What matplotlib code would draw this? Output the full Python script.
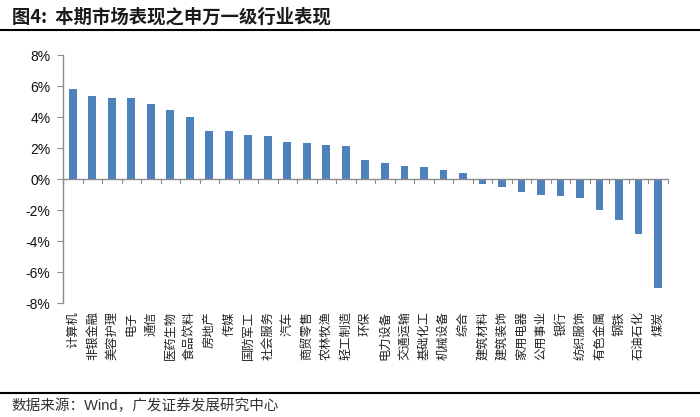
import matplotlib
matplotlib.use('Agg')
import matplotlib.pyplot as plt
from matplotlib.lines import Line2D
from matplotlib.ticker import FuncFormatter, MultipleLocator

plt.rcParams['font.family'] = ['Liberation Sans', 'Noto Sans CJK SC']

industries = ['计算机', '非银金融', '美容护理', '电子', '通信', '医药生物', '食品饮料',
              '房地产', '传媒', '国防军工', '社会服务', '汽车', '商贸零售', '农林牧渔',
              '轻工制造', '环保', '电力设备', '交通运输', '基础化工', '机械设备', '综合',
              '建筑材料', '建筑装饰', '家用电器', '公用事业', '银行', '纺织服饰',
              '有色金属', '钢铁', '石油石化', '煤炭']
returns = [5.78, 5.38, 5.20, 5.20, 4.86, 4.43, 4.00, 3.10, 3.10, 2.86, 2.80, 2.41,
           2.34, 2.17, 2.15, 1.20, 1.01, 0.86, 0.77, 0.58, 0.39, -0.32, -0.52, -0.80,
           -1.05, -1.08, -1.20, -2.02, -2.65, -3.55, -7.01]

bar_color = '#4F81BD'
axis_color = '#8C8C8C'

fig = plt.figure(figsize=(7, 4.17), dpi=100)
ax = fig.add_axes([0.09, 0.273, 0.864, 0.595])

x = list(range(len(industries)))
ax.bar(x, returns, width=0.4, color=bar_color, zorder=2)

ax.set_xlim(-0.5, len(industries) - 0.5)
ax.set_ylim(-8, 8)
ax.yaxis.set_major_locator(MultipleLocator(2))
ax.yaxis.set_major_formatter(FuncFormatter(lambda v, p: f'{v:.0f}%'))

for s in ['top', 'right', 'bottom']:
    ax.spines[s].set_visible(False)
ax.spines['left'].set_color(axis_color)
ax.spines['left'].set_linewidth(1.0)
ax.tick_params(axis='y', direction='out', length=4, color=axis_color,
               labelsize=10, pad=5, labelcolor='#111111')

# category axis drawn at zero, with ticks between categories
ax.axhline(0, color=axis_color, lw=1.0, zorder=3)
for b in range(len(industries) + 1):
    ax.plot([b - 0.5, b - 0.5], [0, -0.25], color=axis_color, lw=0.8,
            zorder=3, clip_on=False)

ax.set_xticks(x)
ax.set_xticklabels(industries, rotation=90, fontsize=8.8,
                   family=['Noto Sans CJK SC'], color='#222222')
ax.tick_params(axis='x', length=0, pad=6)

fig.text(0.017, 0.958, '图4:  本期市场表现之申万一级行业表现', fontsize=13.2,
         fontweight='bold', color='#1a1a1a', va='center', ha='left',
         family=['Noto Sans CJK SC'])
fig.add_artist(Line2D([0, 1], [0.928, 0.928], color='black', lw=1.5,
                      transform=fig.transFigure))
fig.add_artist(Line2D([0, 1], [0.058, 0.058], color='black', lw=1.5,
                      transform=fig.transFigure))
fig.text(0.017, 0.027, '数据来源：Wind，广发证券发展研究中心', fontsize=10.5,
         color='#333333', va='center', ha='left')

fig.savefig('out.png', dpi=100)
